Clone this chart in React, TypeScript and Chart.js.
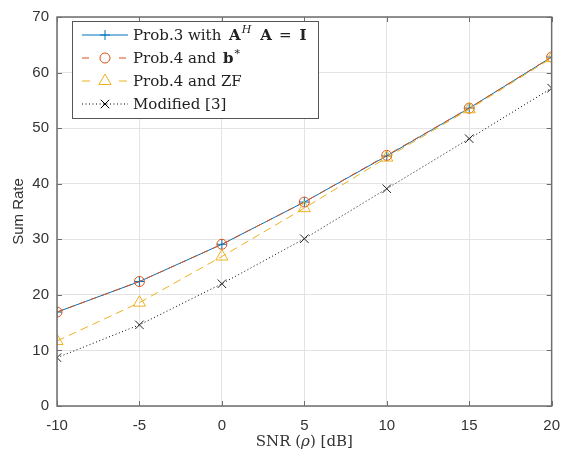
import React, { useEffect, useRef } from "react";
import { Chart, registerables } from "chart.js";

Chart.register(...registerables);

const snr = [-10, -5, 0, 5, 10, 15, 20];
const prob3 = [16.9, 22.4, 29.1, 36.7, 45.0, 53.6, 62.8];
const prob4b = [16.9, 22.4, 29.1, 36.7, 45.1, 53.6, 62.8];
const prob4zf = [11.7, 18.6, 26.9, 35.6, 44.7, 53.4, 62.6];
const modified = [8.7, 14.6, 22.0, 30.1, 39.1, 48.1, 57.2];
const xTicks = [-10, -5, 0, 5, 10, 15, 20];
const yTicks = [0, 10, 20, 30, 40, 50, 60, 70];

const BLUE = "#0072BD";
const ORANGE = "#D95319";
const YELLOW = "#EDB120";
const BLACK = "#000000";
const AXIS = "#6e6e6e";
const TXT = "#333333";
const SERIF = "'DejaVu Serif', serif";
const SANS = "Arial, 'Liberation Sans', sans-serif";

type Run = { t: string; f: string; dy?: number; gap?: number };

function runsWidth(ctx: CanvasRenderingContext2D, runs: Run[]) {
  let w = 0;
  for (const r of runs) {
    ctx.font = r.f;
    w += ctx.measureText(r.t).width + (r.gap || 0);
  }
  return w;
}

function drawRuns(ctx: CanvasRenderingContext2D, x: number, y: number, runs: Run[]) {
  let cx = x;
  for (const r of runs) {
    ctx.font = r.f;
    ctx.fillText(r.t, cx, y + (r.dy || 0));
    cx += ctx.measureText(r.t).width + (r.gap || 0);
  }
  return cx - x;
}

const boxPlugin = {
  id: "boxPlugin",
  afterDatasetsDraw(chart: any) {
    const { ctx, chartArea: a, scales } = chart;
    ctx.save();
    ctx.strokeStyle = AXIS;
    ctx.lineWidth = 1.5;
    ctx.setLineDash([]);
    ctx.strokeRect(a.left, a.top, a.right - a.left, a.bottom - a.top);
    ctx.lineWidth = 1;
    const tl = 5;
    ctx.beginPath();
    for (const v of xTicks) {
      const px = Math.round(scales.x.getPixelForValue(v)) + 0.5;
      ctx.moveTo(px, a.bottom);
      ctx.lineTo(px, a.bottom - tl);
      ctx.moveTo(px, a.top);
      ctx.lineTo(px, a.top + tl);
    }
    for (const v of yTicks) {
      const py = Math.round(scales.y.getPixelForValue(v)) + 0.5;
      ctx.moveTo(a.left, py);
      ctx.lineTo(a.left + tl, py);
      ctx.moveTo(a.right, py);
      ctx.lineTo(a.right - tl, py);
    }
    ctx.stroke();

    // legend
    const lx = 72, ly = 21, lw = 246, lh = 97;
    ctx.fillStyle = "#ffffff";
    ctx.fillRect(lx, ly, lw, lh);
    ctx.strokeStyle = "#555555";
    ctx.lineWidth = 1;
    ctx.strokeRect(lx + 0.5, ly + 0.5, lw, lh);

    const rows = [35, 58, 81, 104];
    const fs = "15px " + SERIF;
    const fb = "bold 15px " + SERIF;
    const fsup = "italic 11px " + SERIF;
    const texts: Run[][] = [
      [
        { t: "Prob.3 with ", f: fs, gap: 3 },
        { t: "A", f: fb, gap: 1 },
        { t: "H", f: fsup, dy: -6, gap: 9 },
        { t: "A", f: fb, gap: 7 },
        { t: "=", f: fs, gap: 8 },
        { t: "I", f: fb },
      ],
      [
        { t: "Prob.4 and ", f: fs, gap: 2 },
        { t: "b", f: fb, gap: 1 },
        { t: "*", f: "11px " + SERIF, dy: -5 },
      ],
      [{ t: "Prob.4 and ZF", f: fs }],
      [{ t: "Modified [3]", f: fs }],
    ];
    chart.data.datasets.forEach((ds: any, i: number) => {
      const y = rows[i];
      ctx.save();
      ctx.strokeStyle = ds.borderColor;
      ctx.lineWidth = ds.borderWidth;
      ctx.setLineDash(ds.borderDash || []);
      ctx.beginPath();
      if (i === 1 || i === 2) {
        ctx.moveTo(82, y); ctx.lineTo(91, y);
        ctx.moveTo(119, y); ctx.lineTo(128, y);
      } else {
        ctx.moveTo(82, y); ctx.lineTo(128, y);
      }
      ctx.stroke();
      ctx.restore();
      ctx.save();
      ctx.strokeStyle = ds.borderColor;
      ctx.lineWidth = 1;
      ctx.setLineDash([]);
      const mx = 105;
      const r = ds.pointRadius;
      ctx.beginPath();
      if (ds.pointStyle === "cross") {
        ctx.moveTo(mx - r, y); ctx.lineTo(mx + r, y);
        ctx.moveTo(mx, y - r); ctx.lineTo(mx, y + r);
      } else if (ds.pointStyle === "circle") {
        ctx.arc(mx, y, r, 0, Math.PI * 2);
      } else if (ds.pointStyle === "triangle") {
        ctx.moveTo(mx, y - r);
        ctx.lineTo(mx + r * 0.866, y + r * 0.5);
        ctx.lineTo(mx - r * 0.866, y + r * 0.5);
        ctx.closePath();
      } else {
        const d = r * 0.707;
        ctx.moveTo(mx - d, y - d); ctx.lineTo(mx + d, y + d);
        ctx.moveTo(mx + d, y - d); ctx.lineTo(mx - d, y + d);
      }
      ctx.stroke();
      ctx.restore();
      ctx.fillStyle = "#222222";
      ctx.textBaseline = "middle";
      ctx.textAlign = "left";
      drawRuns(ctx, 133, y + 1, texts[i]);
    });
    ctx.restore();
  },
  afterDraw(chart: any) {
    const { ctx, chartArea: a } = chart;
    ctx.save();
    ctx.fillStyle = TXT;
    ctx.textBaseline = "middle";
    const runs: Run[] = [
      { t: "SNR (", f: "15px " + SERIF },
      { t: "ρ", f: "italic 15px " + SERIF },
      { t: ") [dB]", f: "15px " + SERIF },
    ];
    const w = runsWidth(ctx, runs);
    ctx.textAlign = "left";
    drawRuns(ctx, (a.left + a.right) / 2 - w / 2, 442, runs);
    ctx.translate(19, (a.top + a.bottom) / 2);
    ctx.rotate(-Math.PI / 2);
    ctx.textAlign = "center";
    ctx.font = "15px " + SANS;
    ctx.fillText("Sum Rate", 0, 0);
    ctx.restore();
  },
};

export default function App() {
  const ref = useRef<HTMLCanvasElement>(null);
  useEffect(() => {
    if (!ref.current) return;
    const mk = (arr: number[]) => snr.map((x, i) => ({ x, y: arr[i] }));
    const chart = new Chart(ref.current, {
      type: "line",
      data: {
        datasets: [
          {
            label: "Prob.3",
            data: mk(prob3),
            borderColor: BLUE,
            borderWidth: 1,
            pointStyle: "cross",
            pointRadius: 5,
            pointBorderWidth: 1,
            pointBackgroundColor: "transparent",
            pointBorderColor: BLUE,
            order: 4,
          },
          {
            label: "Prob.4 b",
            data: mk(prob4b),
            borderColor: ORANGE,
            borderWidth: 1,
            borderDash: [7, 5],
            pointStyle: "circle",
            pointRadius: 5,
            pointBorderWidth: 1,
            pointBackgroundColor: "transparent",
            pointBorderColor: ORANGE,
            order: 3,
          },
          {
            label: "Prob.4 ZF",
            data: mk(prob4zf),
            borderColor: YELLOW,
            borderWidth: 1,
            borderDash: [8, 5],
            pointStyle: "triangle",
            pointRadius: 7,
            pointBorderWidth: 1,
            pointBackgroundColor: "transparent",
            pointBorderColor: YELLOW,
            order: 2,
          },
          {
            label: "Modified",
            data: mk(modified),
            borderColor: BLACK,
            borderWidth: 1,
            borderDash: [1, 2.5],
            pointStyle: "crossRot",
            pointRadius: 6,
            pointBorderWidth: 1,
            pointBackgroundColor: "transparent",
            pointBorderColor: "#222222",
            order: 1,
          },
        ] as any,
      },
      options: {
        responsive: false,
        animation: false,
        layout: { padding: { top: 6, right: 8, left: 0, bottom: 0 } },
        plugins: { legend: { display: false }, tooltip: { enabled: false } },
        scales: {
          x: {
            type: "linear",
            min: -10,
            max: 20,
            afterFit: (s: any) => { s.height = 54; },
            afterBuildTicks: (s: any) => { s.ticks = xTicks.map((v) => ({ value: v })); },
            grid: { color: "#e3e3e3", drawTicks: false, lineWidth: 1 },
            border: { display: false },
            ticks: { padding: 11, color: TXT, font: { family: SANS, size: 15 }, maxRotation: 0 },
          },
          y: {
            type: "linear",
            min: 0,
            max: 70,
            afterFit: (s: any) => { s.width = 57; },
            afterBuildTicks: (s: any) => { s.ticks = yTicks.map((v) => ({ value: v })); },
            grid: { color: "#e3e3e3", drawTicks: false, lineWidth: 1 },
            border: { display: false },
            ticks: { padding: 8, color: TXT, font: { family: SANS, size: 15 } },
          },
        },
      } as any,
      plugins: [boxPlugin],
    });
    return () => chart.destroy();
  }, []);
  return (
    <div style={{ position: "absolute", left: 0, top: 0, width: 571, height: 460, background: "#fff" }}>
      <canvas ref={ref} width={571} height={460} style={{ display: "block" }} />
    </div>
  );
}
